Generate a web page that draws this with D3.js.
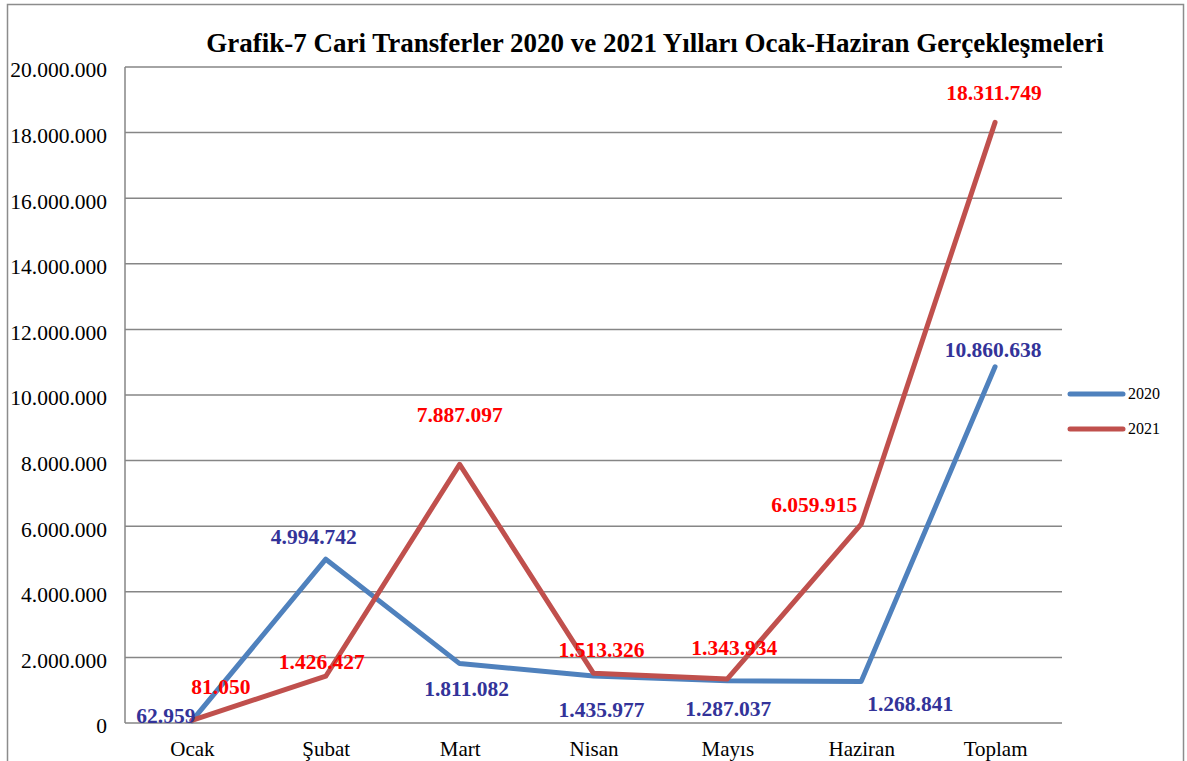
<!DOCTYPE html>
<html><head><meta charset="utf-8">
<script src="https://cdn.jsdelivr.net/npm/d3@7"></script>
<style>body{margin:0;background:#fff}svg{display:block}text{font-family:"Liberation Serif","Times New Roman",serif}</style>
</head><body>
<script>
const categories = ["Ocak","Şubat","Mart","Nisan","Mayıs","Haziran","Toplam"];
const values2020 = [62959,4994742,1811082,1435977,1287037,1268841,10860638];
const values2021 = [81050,1426427,7887097,1513326,1343934,6059915,18311749];
const yTicks = [0,2000000,4000000,6000000,8000000,10000000,12000000,14000000,16000000,18000000,20000000];
const seriesNames = ["2020","2021"];
const title = "Grafik-7 Cari Transferler 2020 ve 2021 Yılları Ocak-Haziran Gerçekleşmeleri";

// label offsets (styling, px relative to point; baseline)
const off2020 = [[-26,2],[-12,-15],[7,32],[8,41],[1,35],[49,30],[-2,-10]];
const off2021 = [[29,-26],[-4,-7],[0,-42],[8,-16],[7,-24],[-47,-12],[-1,-22]];

const W=1187,H=761;
const svg=d3.select("body").append("svg").attr("width",W).attr("height",H);
// outer border
svg.append("rect").attr("x",7.5).attr("y",4.5).attr("width",1176).attr("height",800)
  .attr("fill","none").attr("stroke","#8c8c8c").attr("stroke-width",1.5);

const mLeft=125,mRight=1062,mTop=67,mBottom=723;
const x=d3.scalePoint().domain(categories).range([mLeft,mRight]).padding(0.5);
const y=d3.scaleLinear().domain([0,20000000]).range([mBottom,mTop]);
const fmt=d=>d3.format(",")(d).replace(/,/g,".");

// gridlines
svg.append("g").selectAll("line").data(yTicks).join("line")
  .attr("x1",mLeft).attr("x2",mRight).attr("y1",d=>y(d)).attr("y2",d=>y(d))
  .attr("stroke","#868686").attr("stroke-width",1.5);
// left axis line
svg.append("line").attr("x1",mLeft).attr("x2",mLeft).attr("y1",mTop).attr("y2",mBottom)
  .attr("stroke","#868686").attr("stroke-width",1.5);

const yAxis=d3.axisLeft(y).tickValues(yTicks).tickFormat(fmt).tickSize(0).tickPadding(18);
const gy=svg.append("g").attr("transform",`translate(${mLeft},0)`).call(yAxis);
gy.select(".domain").remove();
gy.selectAll("text").attr("font-size",21.5).attr("fill","#000").attr("font-family","Liberation Serif")
  .attr("dy","0.32em").attr("y",3);

const xAxis=d3.axisBottom(x).tickSize(0);
const gx=svg.append("g").attr("transform",`translate(0,${mBottom})`).call(xAxis);
gx.select(".domain").remove();
gx.selectAll("text").attr("font-size",21).attr("fill","#000").attr("font-family","Liberation Serif")
  .attr("dy",0).attr("y",33);

// title
svg.append("text").attr("x",655).attr("y",52).attr("text-anchor","middle")
  .attr("font-size",27).attr("font-weight","bold").text(title);

const line=d3.line().x((d,i)=>x(categories[i])).y(d=>y(d));
const colors=["#4F81BD","#C0504D"];
const labelColors=["#333399","#FF0000"];
const allVals=[values2020,values2021];
const offs=[off2020,off2021];
allVals.forEach((vals,s)=>{
  svg.append("path").datum(vals).attr("d",line).attr("fill","none")
    .attr("stroke",colors[s]).attr("stroke-width",5).attr("stroke-linejoin","round").attr("stroke-linecap","round");
});
allVals.forEach((vals,s)=>{
  svg.append("g").selectAll("text").data(vals).join("text")
    .attr("x",(d,i)=>x(categories[i])+offs[s][i][0])
    .attr("y",(d,i)=>y(d)+offs[s][i][1])
    .attr("text-anchor","middle").attr("font-size",21.5).attr("font-weight","bold")
    .attr("fill",labelColors[s]).text(fmt);
});

// legend
const lg=svg.append("g");
seriesNames.forEach((n,s)=>{
  const ly=394+s*35;
  lg.append("line").attr("x1",1070).attr("x2",1123).attr("y1",ly).attr("y2",ly)
    .attr("stroke",colors[s]).attr("stroke-width",5).attr("stroke-linecap","round");
  lg.append("text").attr("x",1128).attr("y",ly+5).attr("font-size",16).text(n);
});
</script>
</body></html>
